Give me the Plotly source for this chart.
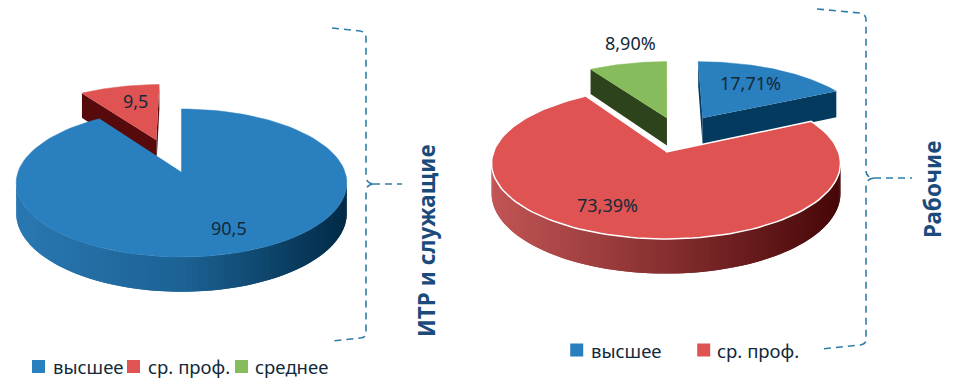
import numpy as np
import plotly.graph_objects as go

# ---- data ----
left_categories = ["высшее", "ср. проф."]
left_values = [90.5, 9.5]
left_labels = ["90,5", "9,5"]
right_categories = ["высшее", "ср. проф.", "среднее"]
right_values = [17.71, 73.39, 8.90]
right_labels = ["17,71%", "73,39%", "8,90%"]
left_legend = ["высшее", "ср. проф.", "среднее"]
right_legend = ["высшее", "ср. проф."]
left_title = "ИТР и служащие"
right_title = "Рабочие"

# ---- style ----
TOP = {"высшее": "#2A7FBE", "ср. проф.": "#DF5353", "среднее": "#86BC5C"}
DARK = {"высшее": "#033A5E", "ср. проф.": "#560A0C", "среднее": "#2C431C"}
RAMP = {"высшее": ["#2A78B2", "#1C6294", "#022B47"],
        "ср. проф.": ["#C25555", "#862F30", "#470708"]}
INK = "#12293A"
BRACKET = "#2F7DA8"
TITLE = "#1B4B7C"
FONT = "Noto Sans, Open Sans, sans-serif"
K = 0.149

fig = go.Figure()


def hex_rgb(h):
    return np.array([int(h[i:i + 2], 16) for i in (1, 3, 5)], float)


def ramp(stops, t):
    t = float(np.clip(t, 0, 1)) * 2
    i = min(int(t), 1)
    c = hex_rgb(stops[i]) * (1 - (t - i)) + hex_rgb(stops[i + 1]) * (t - i)
    return "rgb(%d,%d,%d)" % tuple(c)


def poly(xs, ys, color, line=None, lw=0.0):
    fig.add_trace(go.Scatter(x=list(xs), y=list(ys), mode="lines", fill="toself",
                             fillcolor=color, line=dict(color=line or color, width=lw),
                             hoverinfo="skip", showlegend=False))


def draw_pie(cx, cy, rx, ry, depth, cats, vals, offsets, outline=None):
    def proj(u, v):
        w = 1 + K * v
        return cx + rx * u / w, cy - ry * v / w

    def drop(v):
        return depth / (1 + K * v)

    edges = np.cumsum([0] + list(vals)) / sum(vals) * 2 * np.pi
    wedges = []
    for i, c in enumerate(cats):
        th = np.linspace(edges[i], edges[i + 1], 120)
        wedges.append((c, th, offsets.get(c, (0, 0))))
    # exploded wedges are painted first, the body after them
    wedges.sort(key=lambda w: w[2] == (0, 0))
    for c, th, (u0, v0) in wedges:
        us = np.r_[u0, u0 + np.sin(th)]
        vs = np.r_[v0, v0 + np.cos(th)]
        X, Y = proj(us, vs)
        exploded = (u0, v0) != (0, 0)
        if exploded:
            for j in (1, len(us) - 1):
                poly([X[0], X[j], X[j], X[0]],
                     [Y[0], Y[j], Y[j] + drop(vs[j]), Y[0] + drop(vs[0])], DARK[c])
        else:
            th2 = np.linspace(th[0], th[-1], 200)
            ax, ay = proj(np.sin(th2), np.cos(th2))
            dv = drop(np.cos(th2))
            for j in range(1, len(th2) - 1):
                if np.cos(th2[j]) > -K + 0.02:
                    continue
                t = (ax[j] - (cx - rx)) / (2 * rx)
                # each band overlaps the one painted before it, so no seams appear
                poly([ax[j - 1], ax[j + 1], ax[j + 1], ax[j - 1]],
                     [ay[j - 1], ay[j + 1], ay[j + 1] + dv[j + 1], ay[j - 1] + dv[j - 1]],
                     ramp(RAMP[c], t))
        if exploded or outline is None:
            poly(X, Y, TOP[c], lw=0.5)
        else:
            poly(X, Y, TOP[c], line=outline, lw=1.5)


draw_pie(181.5, 172, 163.5, 72.4, 29.5, left_categories, left_values,
         {"ср. проф.": (-0.165, 0.473)})
draw_pie(666, 152, 172.5, 74, 29.5, right_categories, right_values,
         {"высшее": (0.228, 0.493), "среднее": (0.006, 0.493)}, outline="#FFFFFF")

# ---- brackets ----
bracket_paths = [
    "M332,28 L360,31 Q366,32 366,38 L366,176 Q366,183 373,184 M373,184 L402,184 "
    "M373,184 Q366,185 366,192 L366,333 Q366,338 360,338 L332,341",
    "M817,9 L860,13 Q866,14 866,20 L866,170 Q866,178 874,178 M874,178 L912,178 "
    "M874,178 Q866,179 866,186 L866,340 Q866,344 860,345 L821,349",
]
shapes = [dict(type="path", path=p, xref="x", yref="y",
               line=dict(color=BRACKET, width=1.6, dash="7px,5px")) for p in bracket_paths]

# ---- legends ----
swatches = [(left_legend, [38.5, 133.5, 241.5], 366.5), (right_legend, [576.7, 703.7], 350)]
for names, xs, y in swatches:
    fig.add_trace(go.Scatter(x=xs, y=[y] * len(xs), mode="markers", hoverinfo="skip",
                             showlegend=False,
                             marker=dict(symbol="square", size=13, color=[TOP[n] for n in names])))

annotations = []


def text(x, y, s, size=18, color=INK, anchor="center", angle=0, weight="normal"):
    annotations.append(dict(x=x, y=y, xref="x", yref="y", text=s, showarrow=False,
                            xanchor=anchor, yanchor="middle", textangle=angle,
                            font=dict(family=FONT, size=size, color=color, weight=weight)))


for s, p in zip(left_labels, [(229, 228), (135, 101)]):
    text(*p, s)
for s, p in zip(right_labels, [(750, 83), (607, 205), (630, 43)]):
    text(*p, s)
for s, x in zip(left_legend, [51, 146, 253]):
    text(x, 366.5, s, size=18.5, anchor="left")
for s, x in zip(right_legend, [589, 715]):
    text(x, 350, s, size=18.5, anchor="left")
text(426, 241, left_title, size=22.5, color=TITLE, angle=-90, weight="bold")
text(932, 190, right_title, size=22.5, color=TITLE, angle=-90, weight="bold")

fig.update_layout(
    width=953, height=383, margin=dict(l=0, r=0, t=0, b=0),
    paper_bgcolor="white", plot_bgcolor="white", showlegend=False,
    xaxis=dict(range=[0, 953], visible=False, fixedrange=True),
    yaxis=dict(range=[383, 0], visible=False, fixedrange=True),
    shapes=shapes, annotations=annotations,
)
fig.write_html("out.html", config={"displayModeBar": False},
               post_script="document.body.style.margin='0';document.documentElement.style.overflow='hidden';")
